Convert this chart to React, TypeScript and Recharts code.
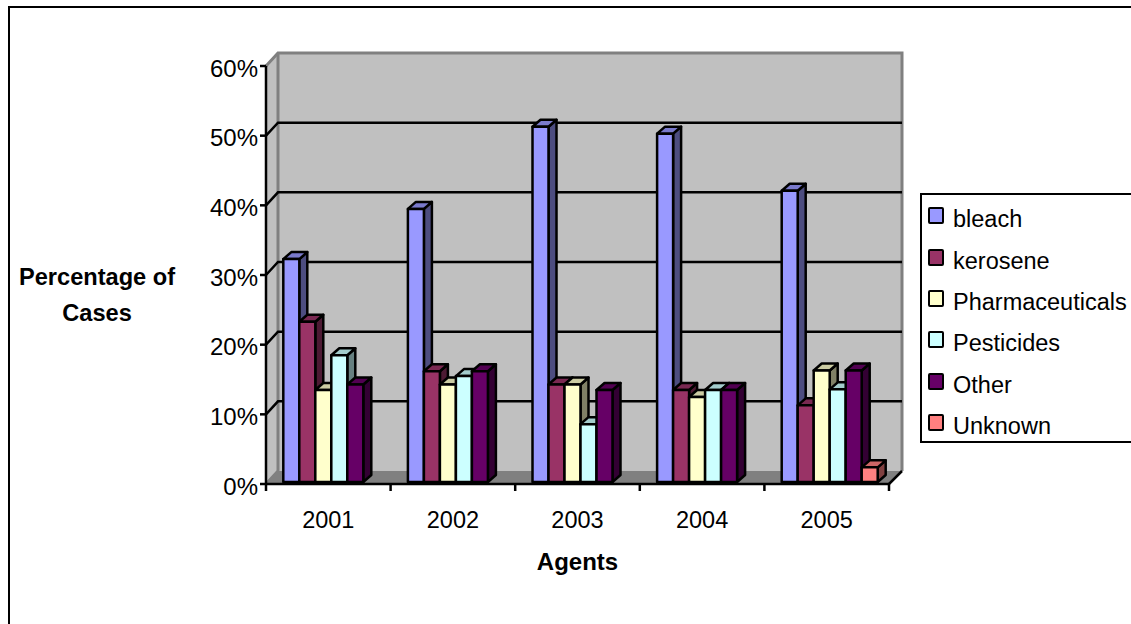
import { BarChart, Bar, XAxis, YAxis, CartesianGrid, Legend } from 'recharts'

const categories = ['2001', '2002', '2003', '2004', '2005']
const bleach = [32, 39.2, 51, 50, 41.8]
const kerosene = [23, 15.9, 14, 13.2, 11]
const pharmaceuticals = [13.2, 14, 14, 12.2, 16]
const pesticides = [18.2, 15.2, 8.3, 13.2, 13.3]
const other = [14, 15.9, 13.2, 13.2, 16]
const unknown = [null, null, null, null, 2.1]
const yTicks = [0, 10, 20, 30, 40, 50, 60]

const chartData = categories.map((year, i) => ({
  year,
  bleach: bleach[i],
  kerosene: kerosene[i],
  Pharmaceuticals: pharmaceuticals[i],
  Pesticides: pesticides[i],
  Other: other[i],
  Unknown: unknown[i],
}))

const FONT = '"Liberation Sans", Arial, sans-serif'
const FONT_SIZE = 23.5

// plot box of the front plane
const LEFT = 266
const TOP = 66
const RIGHT = 889
const BOTTOM = 484
const BAND = (RIGHT - LEFT) / categories.length

// fake 3d offsets
const WALL_DX = 12
const WALL_DY = 13
const BAR_DX = 8
const BAR_DY = 7
const BAR_SHIFT_X = 4
const BAR_SHIFT_Y = -2
const LINE_W = 2.5

const faces = {
  bleach: { front: '#9999ff', top: '#7a7acc', side: '#4d4d80' },
  kerosene: { front: '#993366', top: '#7a2952', side: '#4d1a33' },
  Pharmaceuticals: { front: '#ffffcc', top: '#cccca3', side: '#808066' },
  Pesticides: { front: '#ccffff', top: '#a3cccc', side: '#668080' },
  Other: { front: '#660066', top: '#520052', side: '#330033' },
  Unknown: { front: '#ff8080', top: '#cc6666', side: '#804040' },
}

function Box3D(props: any) {
  const { x, y, width, height, dataKey } = props
  if (!height || height <= 0) return null
  const f = faces[dataKey]
  const l = x + BAR_SHIFT_X
  const t = y + BAR_SHIFT_Y
  const r = l + width
  const b = t + height
  const line = { stroke: '#000', strokeWidth: LINE_W, strokeLinejoin: 'round' as const }
  return (
    <g>
      <polygon points={`${r},${t} ${r + BAR_DX},${t - BAR_DY} ${r + BAR_DX},${b - BAR_DY} ${r},${b}`} fill={f.side} {...line} />
      <polygon points={`${l},${t} ${l + BAR_DX},${t - BAR_DY} ${r + BAR_DX},${t - BAR_DY} ${r},${t}`} fill={f.top} {...line} />
      <rect x={l} y={t} width={width} height={height} fill={f.front} {...line} />
    </g>
  )
}

// sits under the chart svg, recharts paints its grid below plain children
function Walls() {
  const bl = BOTTOM - WALL_DY
  const tl = TOP - WALL_DY
  const lx = LEFT + WALL_DX
  const rx = RIGHT + WALL_DX + 1
  return (
    <svg width={1131} height={624} style={{ position: 'absolute', left: 0, top: 0 }}>
      <rect x={lx} y={tl} width={rx - lx} height={bl - tl} fill="#c0c0c0" />
      <polygon points={`${LEFT},${BOTTOM} ${lx},${bl} ${lx},${tl} ${LEFT},${TOP}`} fill="#c0c0c0" />
      <polygon points={`${LEFT},${BOTTOM} ${RIGHT},${BOTTOM} ${rx},${bl} ${lx},${bl}`} fill="#808080" />
      <path d={`M${LEFT},${TOP} L${lx},${tl} L${rx},${tl} L${rx},${bl}`} fill="none" stroke="#808080" strokeWidth={3} />
      <path d={`M${lx},${tl} L${lx},${bl} L${LEFT},${BOTTOM}`} fill="none" stroke="#808080" strokeWidth={3} />
      <line x1={RIGHT} y1={BOTTOM} x2={rx} y2={bl} stroke="#000" strokeWidth={LINE_W} />
    </svg>
  )
}

function GridLine(props: any) {
  const { x1, x2, y1 } = props
  // first and last ticks sit on the wall edges
  if (y1 <= TOP + 1 || y1 >= BOTTOM - 1) return null
  return (
    <path
      d={`M${x1},${y1} L${x1 + WALL_DX},${y1 - WALL_DY} L${x2 + WALL_DX + 1},${y1 - WALL_DY}`}
      fill="none"
      stroke="#000"
      strokeWidth={LINE_W}
    />
  )
}

function YearTick(props: any) {
  const { x, payload, index } = props
  const left = x - BAND / 2
  return (
    <g>
      <line x1={left} y1={BOTTOM} x2={left} y2={BOTTOM + 7} stroke="#000" strokeWidth={LINE_W} />
      {index === categories.length - 1 && (
        <line x1={left + BAND} y1={BOTTOM} x2={left + BAND} y2={BOTTOM + 7} stroke="#000" strokeWidth={LINE_W} />
      )}
      <text x={x} y={528} textAnchor="middle" fontFamily={FONT} fontSize={FONT_SIZE} fill="#000">
        {payload.value}
      </text>
    </g>
  )
}

function YTitle() {
  return (
    <text fontFamily={FONT} fontSize={23.6} fontWeight="bold" fill="#000" textAnchor="middle">
      <tspan x={97} y={285}>Percentage of</tspan>
      <tspan x={97} y={321}>Cases</tspan>
    </text>
  )
}

function LegendBox({ payload }: any) {
  const items = payload || []
  return (
    <div style={{ width: 216, height: 246, border: '2.5px solid #000', background: '#fff', boxSizing: 'content-box' }}>
      {items.map((item: any) => (
        <div key={item.value} style={{ display: 'flex', alignItems: 'center', height: 41.4, paddingLeft: 6 }}>
          <span
            style={{
              display: 'inline-block',
              width: 12,
              height: 13,
              marginRight: 9,
              background: faces[item.value].front,
              border: '2.5px solid #000',
              borderRadius: 2,
            }}
          />
          <span style={{ fontFamily: FONT, fontSize: FONT_SIZE, color: '#000', whiteSpace: 'nowrap', position: 'relative', top: 4 }}>
            {item.value}
          </span>
        </div>
      ))}
    </div>
  )
}

const seriesKeys = ['bleach', 'kerosene', 'Pharmaceuticals', 'Pesticides', 'Other', 'Unknown']

export default function App() {
  return (
    <div style={{ position: 'absolute', left: 0, top: 0, width: 1131, height: 624, overflow: 'hidden', background: '#fff' }}>
      <div style={{ position: 'absolute', left: 8, top: 6, width: 1200, height: 700, borderLeft: '2.5px solid #000', borderTop: '2.5px solid #000' }} />
      <Walls />
      <BarChart
        width={1131}
        height={624}
        data={chartData}
        margin={{ top: TOP, right: 1131 - RIGHT, bottom: 0, left: 0 }}
        barGap={0}
        barCategoryGap={13.3}
        style={{ position: 'absolute', left: 0, top: 0 }}
      >
        <CartesianGrid vertical={false} horizontal={(p: any) => <GridLine key={p.key} {...p} />} />
        <XAxis
          dataKey="year"
          height={624 - BOTTOM}
          tick={YearTick}
          tickLine={false}
          axisLine={{ stroke: '#000', strokeWidth: LINE_W }}
          label={{ value: 'Agents', position: 'insideTop', offset: 69, fontFamily: FONT, fontSize: 24, fontWeight: 'bold', fill: '#000' }}
        />
        <YAxis
          width={LEFT}
          domain={[0, 60]}
          ticks={yTicks}
          interval={0}
          tickFormatter={(v: number) => `${v}%`}
          tick={{ fontFamily: FONT, fontSize: 24, fill: '#000', dy: 2 }}
          tickSize={6}
          tickMargin={2}
          tickLine={{ stroke: '#000', strokeWidth: LINE_W }}
          axisLine={{ stroke: '#000', strokeWidth: LINE_W }}
          label={{ content: <YTitle /> }}
        />
        <Legend
          layout="vertical"
          align="center"
          verticalAlign="middle"
          itemSorter={null}
          content={<LegendBox />}
          wrapperStyle={{ left: 920, top: 193, width: 221, height: 251 }}
        />
        {seriesKeys.map((k) => (
          <Bar key={k} dataKey={k} name={k} fill={faces[k].front} shape={<Box3D dataKey={k} />} isAnimationActive={false} />
        ))}
      </BarChart>
    </div>
  )
}
